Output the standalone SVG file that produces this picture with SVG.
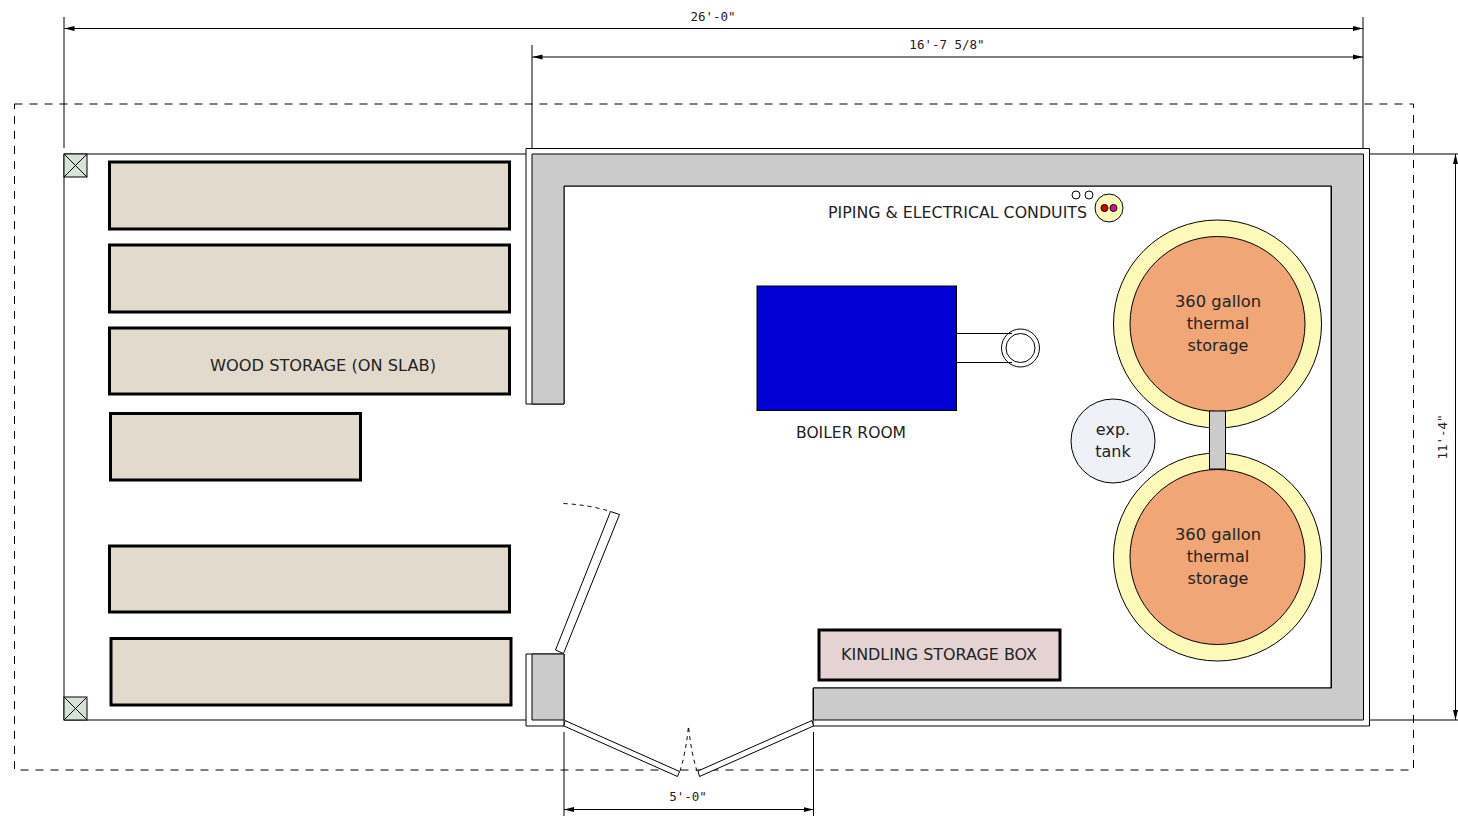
<svg xmlns="http://www.w3.org/2000/svg" width="1458" height="817" viewBox="0 0 1458 817">
<style>
.l{fill:none;stroke:#000;stroke-width:1}
.dim{fill:none;stroke:#000;stroke-width:1;marker-start:url(#a);marker-end:url(#a)}
.stack{fill:#e2dacd;stroke:#000;stroke-width:3}
.w{fill:#fff;stroke:#000;stroke-width:1}
.arc{fill:none;stroke:#000;stroke-width:1;stroke-dasharray:4 4}
.t{font-family:"DejaVu Sans",sans-serif;font-size:16px;fill:#222;text-anchor:middle}
.m{font-family:"DejaVu Sans Mono",monospace;font-size:12.500px;fill:#222;text-anchor:middle}
.post{fill:#d6e3d6;stroke:#000;stroke-width:1}
</style>
<defs><marker id="a" orient="auto-start-reverse" markerUnits="userSpaceOnUse" markerWidth="12" markerHeight="8" refX="10" refY="3" viewBox="0 0 12 6"><path d="M10,3L0,0.500L0,5.500Z" fill="#000"/></marker></defs>
<rect width="1458" height="817" fill="#fff"/>
<rect id="slab-boundary" x="14.500" y="104" width="1399" height="666" fill="none" stroke="#000" stroke-width="1" stroke-dasharray="8 7"/>
<path class="l" d="M526,154H64V720H526M1369,154H1458M1369,720H1458"/>
<g id="walls">
<path class="w" d="M526,404V148.500H1369.500V726H813V688H1331V186H564V404Z"/>
<path class="w" d="M526,654H564V726H526Z"/>
<path fill="#cbcbcb" stroke="#000" d="M532,154H1363.500V720H813.500V688H1331.500V186H564V404H532Z"/>
<path fill="#cbcbcb" stroke="#000" d="M532,654H564V720H532Z"/>
</g>
<g id="posts">
<rect class="post" x="64" y="154" width="23" height="23"/><path class="l" d="M64,154L87,177M87,154L64,177"/>
<rect class="post" x="64" y="697" width="23" height="23"/><path class="l" d="M64,697L87,720M87,697L64,720"/>
</g>
<g id="wood-storage">
<rect class="stack" x="109.500" y="162" width="400" height="67"/>
<rect class="stack" x="109.500" y="245" width="400" height="67"/>
<rect class="stack" x="109.500" y="328" width="400" height="66"/>
<rect class="stack" x="110.500" y="413.500" width="250" height="66.500"/>
<rect class="stack" x="109.500" y="546" width="400" height="66"/>
<rect class="stack" x="111" y="638.500" width="400" height="66.500"/>
<text class="t" x="323" y="371" textLength="226" lengthAdjust="spacingAndGlyphs">WOOD STORAGE (ON SLAB)</text>
</g>
<g id="boiler">
<rect x="757" y="286" width="199.500" height="124.500" fill="#0000d2" stroke="#000"/>
<circle cx="1020.500" cy="348" r="19" fill="#fff" stroke="#000"/>
<path class="l" d="M957,333.500H1012M957,362.500H1012"/>
<circle cx="1020.500" cy="348" r="14.500" fill="#fff" stroke="#000"/>
<text class="t" x="851" y="438" textLength="110" lengthAdjust="spacingAndGlyphs">BOILER ROOM</text>
</g>
<g id="conduits">
<circle cx="1076" cy="195" r="4" fill="#fff" stroke="#000"/>
<circle cx="1089" cy="195" r="4" fill="#fff" stroke="#000"/>
<circle cx="1109" cy="208" r="14" fill="#fdf9b8" stroke="#000"/>
<circle cx="1104.500" cy="208" r="3.500" fill="#e00000" stroke="#000"/>
<circle cx="1113.500" cy="208" r="3.500" fill="#e0108c" stroke="#000"/>
<text class="t" x="957.500" y="218" textLength="259" lengthAdjust="spacingAndGlyphs">PIPING &amp; ELECTRICAL CONDUITS</text>
</g>
<g id="tank-1">
<circle cx="1217.500" cy="324" r="104" fill="#fdf9b8" stroke="#000"/>
<circle cx="1217.500" cy="324" r="87.500" fill="#f0a676" stroke="#000"/>
<text class="t" x="1218" y="307" textLength="86" lengthAdjust="spacingAndGlyphs">360 gallon</text><text class="t" x="1218" y="329">thermal</text><text class="t" x="1218" y="351">storage</text>
</g>
<g id="tank-2">
<circle cx="1217.500" cy="557" r="104" fill="#fdf9b8" stroke="#000"/>
<circle cx="1217.500" cy="557" r="87.500" fill="#f0a676" stroke="#000"/>
<text class="t" x="1218" y="540" textLength="86" lengthAdjust="spacingAndGlyphs">360 gallon</text><text class="t" x="1218" y="562">thermal</text><text class="t" x="1218" y="584">storage</text>
</g>
<rect id="tank-link" x="1209.500" y="411" width="16" height="58" fill="#cbcbcb" stroke="#000"/>
<g id="exp-tank">
<circle cx="1113" cy="441" r="42" fill="#eff0f8" stroke="#000"/>
<text class="t" x="1113" y="435">exp.</text><text class="t" x="1113" y="457">tank</text>
</g>
<g id="kindling">
<rect x="819" y="630" width="241" height="50" fill="#e5d3d3" stroke="#000" stroke-width="3"/>
<text class="t" x="939" y="660" textLength="196" lengthAdjust="spacingAndGlyphs">KINDLING STORAGE BOX</text>
</g>
<g id="doors">
<path class="w" d="M565,720.500L679.500,771.500L677.500,776.500L564,726Z"/>
<path class="w" d="M812,720.500L698,771L699.500,776.500L813.500,726Z"/>
<path class="w" d="M555.500,650L610.500,511.500L619.500,514.500L563.500,653.500Z"/>
<path class="arc" d="M680,771Q686,752 688.500,726M697,771Q691,752 688.500,726M563.500,503.500Q590,505 610.500,511.500"/>
</g>
<g id="dimensions">
<path class="l" d="M64,17V148M1363,17V148M532,45V148M564,732V816M813.500,732V816"/>
<path class="dim" d="M64.500,28.500H1363"/>
<path class="dim" d="M532.500,57H1363"/>
<path class="dim" d="M1455.500,154V720"/>
<path class="dim" d="M564,809.500H813.500"/>
<text class="m" x="713" y="21">26'-0"</text>
<text class="m" x="947" y="49">16'-7 5/8"</text>
<text class="m" x="688" y="801">5'-0"</text>
<text class="m" transform="translate(1447,437) rotate(-90)">11'-4"</text>
</g>
</svg>
